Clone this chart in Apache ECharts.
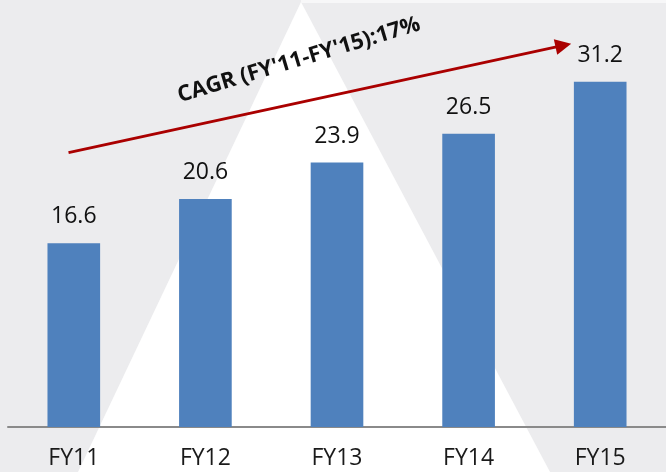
<!DOCTYPE html>
<html lang="en">
<head>
	<meta charset="UTF-8">
	<title>CAGR bars</title>
	<script src="https://cdn.jsdelivr.net/npm/echarts@6/dist/echarts.min.js"></script>
	<style>
		html, body { margin: 0; padding: 0; background: #ececee; }
	</style>
</head>
<body>
	<div id="main" style="width: 666px; height: 472px;"></div>
	<script type="text/javascript">
	var years = ['FY11', 'FY12', 'FY13', 'FY14', 'FY15'];
	var values = [16.6, 20.6, 23.9, 26.5, 31.2];
	// arrow ends on a hidden 0..5 value axis laid over the categories
	var arrowFrom = [0.46, 24.8];
	var arrowTo = [4.22, 34.5];
	var cagrText = "CAGR (FY'11-FY'15):17%";

	var font = '"Open Sans", sans-serif';

	var option = {
		backgroundColor: '#ececee',
		animation: false,
		graphic: [
			{
				type: 'polygon',
				z: -10,
				silent: true,
				shape: { points: [[301, 2], [78, 472], [550, 472]] },
				style: { fill: '#ffffff' }
			},
			{
				type: 'rect',
				z: -10,
				silent: true,
				shape: { x: 301, y: 0, width: 365, height: 3 },
				style: { fill: '#f7f7f8' }
			},
			{
				type: 'text',
				x: 299,
				y: 60,
				rotation: 16.7 * Math.PI / 180,
				z: 10,
				style: {
					text: cagrText,
					fill: '#111',
					font: 'bold 22px ' + font,
					textAlign: 'center',
					textVerticalAlign: 'middle'
				}
			}
		],
		grid: { left: 8, top: 0, width: 666, height: 427 },
		xAxis: [
			{
				type: 'category',
				data: years,
				axisLine: { lineStyle: { color: '#8a8a8a', width: 2 } },
				axisTick: { length: 8, lineStyle: { color: '#8a8a8a', width: 1.5 } },
				axisLabel: { color: '#1a1a1a', fontSize: 23, fontFamily: font, margin: 20 }
			},
			{
				type: 'value',
				min: 0,
				max: 5,
				show: false
			}
		],
		yAxis: {
			type: 'value',
			min: 0,
			max: 38.6,
			show: false
		},
		series: [
			{
				type: 'bar',
				data: values,
				barWidth: '40%',
				itemStyle: { color: '#4f81bd' },
				label: {
					show: true,
					position: 'top',
					distance: 15,
					color: '#111',
					fontSize: 23,
					fontFamily: font
				}
			},
			{
				type: 'lines',
				coordinateSystem: 'cartesian2d',
				xAxisIndex: 1,
				yAxisIndex: 0,
				symbol: ['none', 'triangle'],
				symbolSize: [0, 16],
				lineStyle: { color: '#aa0000', width: 3, opacity: 1 },
				data: [{ coords: [arrowFrom, arrowTo] }]
			}
		]
	};
	var chart = echarts.init(document.getElementById('main'));
	chart.setOption(option);
	</script>
</body>
</html>
